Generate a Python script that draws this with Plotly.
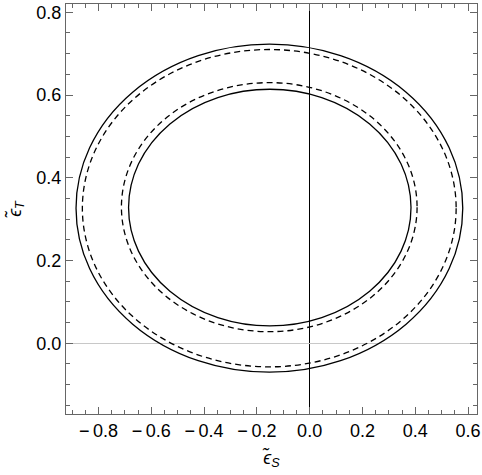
import plotly.graph_objects as go

# contour extents (eps_S left/right, eps_T bottom/top)
contour_names = ["outer 2σ", "outer 1σ", "inner 1σ", "inner 2σ"]
contour_left = [-0.885, -0.861, -0.713, -0.686]
contour_right = [0.580, 0.555, 0.407, 0.384]
contour_bottom = [-0.070, -0.057, 0.028, 0.042]
contour_top = [0.723, 0.710, 0.630, 0.614]
contour_dash = ["solid", "6px,4px", "6px,4px", "solid"]

x_range = [-0.923, 0.634]
y_range = [-0.171, 0.82]

x_tickvals = [-0.8, -0.6, -0.4, -0.2, 0.0, 0.2, 0.4, 0.6]
x_ticktext = ["\u2212\u20090.8", "\u2212\u20090.6", "\u2212\u20090.4", "\u2212\u20090.2", "0.0", "0.2", "0.4", "0.6"]
y_tickvals = [0.0, 0.2, 0.4, 0.6, 0.8]
y_ticktext = ["0.0", "0.2", "0.4", "0.6", "0.8"]

FONT = "Liberation Sans, Arial, sans-serif"

fig = go.Figure()

shapes = []
for x0, x1, y0, y1, dash in zip(contour_left, contour_right, contour_bottom, contour_top, contour_dash):
    shapes.append(
        dict(
            type="circle",
            xref="x",
            yref="y",
            x0=x0,
            x1=x1,
            y0=y0,
            y1=y1,
            line=dict(color="black", width=1.3, dash=dash),
        )
    )

# invisible trace so the axes get drawn
fig.add_trace(go.Scatter(x=x_range, y=y_range, mode="markers", marker=dict(opacity=0), hoverinfo="skip", showlegend=False))

axis_common = dict(
    showgrid=False,
    showline=True,
    linecolor="#666666",
    linewidth=1,
    mirror="allticks",
    ticks="inside",
    ticklen=7,
    tickcolor="#666666",
    tickmode="array",
    automargin=False,
    tickfont=dict(family=FONT, size=18, color="black"),
    minor=dict(ticks="inside", ticklen=4, tickcolor="#666666", tickmode="linear", tick0=0, dtick=0.05, showgrid=False),
)

fig.update_layout(
    width=482,
    height=475,
    paper_bgcolor="white",
    plot_bgcolor="white",
    margin=dict(l=66, r=5, t=4, b=61),
    showlegend=False,
    shapes=shapes,
    xaxis=dict(
        axis_common,
        range=x_range,
        tickvals=x_tickvals,
        ticktext=x_ticktext,
        zeroline=True,
        zerolinecolor="black",
        zerolinewidth=1,
        title=dict(
            text="<i>ϵ̃</i><sub><i>S</i></sub>",
            font=dict(family=FONT, size=18, color="black"),
            standoff=11,
        ),
    ),
    yaxis=dict(
        axis_common,
        range=y_range,
        tickvals=y_tickvals,
        ticktext=y_ticktext,
        zeroline=True,
        zerolinecolor="#c8c8c8",
        zerolinewidth=1,
        title=dict(
            text="<i>ϵ̃</i><sub><i>T</i></sub>",
            font=dict(family=FONT, size=18, color="black"),
            standoff=10,
        ),
    ),
)

fig.write_html(
    "out.html",
    config={"displayModeBar": False},
    post_script="document.body.style.margin='0';",
)
